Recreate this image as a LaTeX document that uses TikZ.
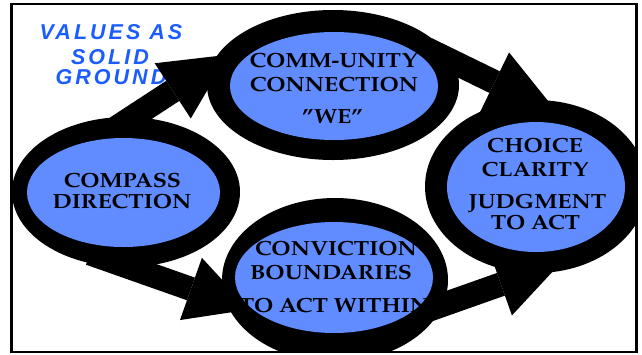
\documentclass[tikz,border=0pt]{standalone}
\usepackage{fontspec}
\setmainfont{TeX Gyre Pagella}
\newfontfamily\palb{TeX Gyre Pagella}[FakeStretch=1.13]
\newfontfamily\valfont{Liberation Sans}[LetterSpace=14]
\usetikzlibrary{arrows.meta,shapes.geometric}
\definecolor{ellblue}{RGB}{96,140,255}
\definecolor{valblue}{RGB}{26,92,255}
\begin{document}
\begin{tikzpicture}[x=1pt,y=-1pt,
  outerell/.style={ellipse,fill=black,inner sep=0pt,outer sep=0pt},
  innerell/.style={ellipse,fill=ellblue,inner sep=0pt,outer sep=0pt},
  lbl/.style={anchor=base,inner sep=0pt,font=\palb\bfseries\fontsize{20.5}{21}\selectfont},
  vlbl/.style={anchor=base,inner sep=0pt,text=valblue,font=\valfont\bfseries\itshape\fontsize{21.5}{22}\selectfont},
  arr/.style={line width=24pt,-{Triangle[length=#1,width=66pt,line width=0pt]}},
  arr/.default=66pt]
\useasboundingbox (0,0) rectangle (642,354);
\begin{scope}
\clip (11.5,4) rectangle (636.5,352);
% title text
\node[vlbl] (v1) at (111,39.5) {VALUES AS};
\node[vlbl] (v2) at (110,64) {SOLID};
\node[vlbl] (v3) at (111,84) {GROUND};
% outer rings
\node[outerell,minimum width=228pt,minimum height=150pt] (compass) at (126,192) {};
\node[outerell,minimum width=252pt,minimum height=150pt] (comm) at (333,85) {};
\node[outerell,minimum width=222pt,minimum height=173pt] (choice) at (536,186.5) {};
\node[outerell,minimum width=226pt,minimum height=164pt] (conv) at (335,280) {};
% arrows
\draw[arr, shorten <=-20pt, shorten >=-20pt] (compass.85.6) -- (comm.171);
\draw[arr=70pt, shorten <=-29pt, shorten >=-29pt] (comm.11.3) -- (choice.93.8);
\draw[arr=62pt, shorten <=-41pt, shorten >=-25pt] (compass.272.3) -- (conv.191.3);
\draw[arr=63pt, shorten <=-23pt, shorten >=-29pt] (conv.347.3) -- (choice.268.3);
% inner fills
\node[innerell,minimum width=193pt,minimum height=109pt] (compassin) at (123.5,192.5) {};
\node[innerell,minimum width=208pt,minimum height=108pt] (commin) at (334,86) {};
\node[innerell,minimum width=178pt,minimum height=130pt] (choicein) at (536,187) {};
\node[innerell,minimum width=198pt,minimum height=111pt] (convin) at (334,277.5) {};
% labels
\node[lbl] (t1) at (122.5,187) {COMPASS};
\node[lbl] (t2) at (122,208) {DIRECTION};
\node[lbl] (t3) at (333.5,67) {COMM-UNITY};
\node[lbl] (t4) at (334,91) {CONNECTION};
\node[lbl] (t5) at (332.5,123) {”WE”};
\node[lbl] (t6) at (535,152) {CHOICE};
\node[lbl] (t7) at (535,176) {CLARITY};
\node[lbl] (t8) at (537.5,208) {JUDGMENT};
\node[lbl] (t9) at (535.5,229) {TO ACT};
\node[lbl] (t10) at (336,255) {CONVICTION};
\node[lbl] (t11) at (331,279) {BOUNDARIES};
\node[lbl] (t12) at (334,312) {TO ACT WITHIN};
\end{scope}
\draw[line width=2.5pt] (11.5,4) rectangle (636.5,352);
\end{tikzpicture}
\end{document}
